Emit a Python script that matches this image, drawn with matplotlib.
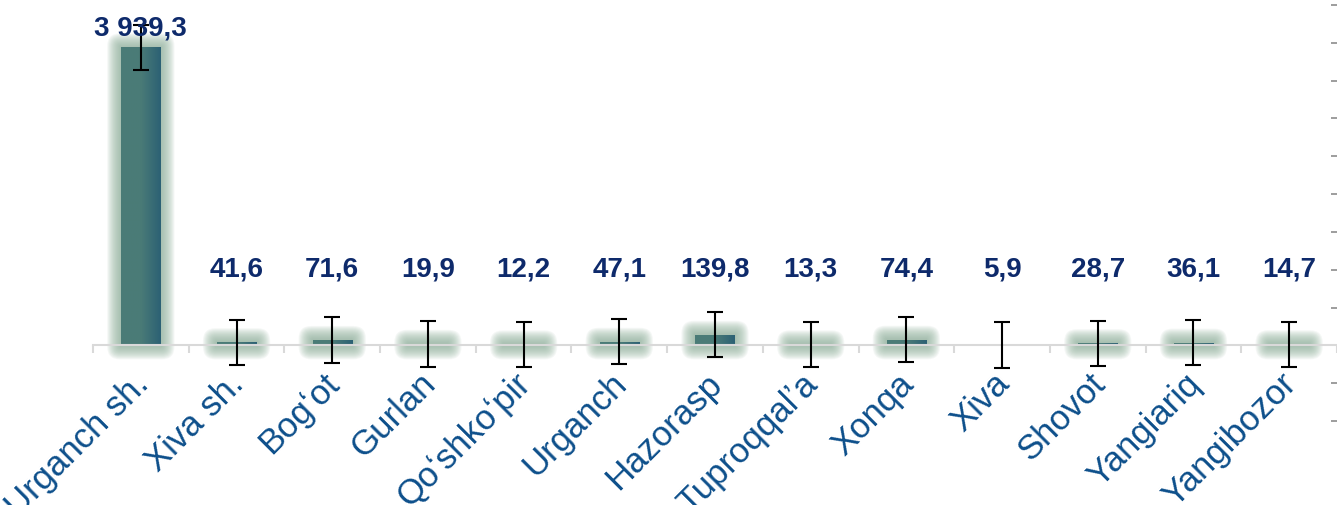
import numpy as np
import matplotlib
matplotlib.use("Agg")
from matplotlib import pyplot as plt
from matplotlib.patches import FancyBboxPatch
from matplotlib.ticker import MultipleLocator, FixedLocator
import matplotlib.transforms as mtransforms

# districts and values
districts = ["Urganch sh.", "Xiva sh.", "Bog\u02bbot", "Gurlan", "Qo\u02bbshko\u02bbpir", "Urganch",
             "Hazorasp", "Tuproqqal\u02bca", "Xonqa", "Xiva", "Shovot", "Yangiariq", "Yangibozor"]
values = [3939.3, 41.6, 71.6, 19.9, 12.2, 47.1, 139.8, 13.3, 74.4, 5.9, 28.7, 36.1, 14.7]
labels = ["3 939,3", "41,6", "71,6", "19,9", "12,2", "47,1", "139,8", "13,3", "74,4", "5,9", "28,7", "36,1", "14,7"]
errors = [300] * 13

plt.rcParams['font.family'] = ['Liberation Sans', 'DejaVu Sans']

W, H = 1337, 505
fig = plt.figure(figsize=(W / 100, H / 100), dpi=100)
ax = fig.add_axes([93 / W, 1 - 421 / H, 1 - 93 / W, (421 - 5) / H])
ymin, ymax = -1000, 4500
ax.set_xlim(-0.5, len(values) - 0.5)
ax.set_ylim(ymin, ymax)

x = np.arange(len(values))
bw = 0.41

# data units per pixel, for the glow padding
ux = len(values) / (W - 93)
uy = (ymax - ymin) / (421 - 5)

# soft glow behind bars
nlay = 14
for xi, v in zip(x, values):
    if v / uy < 0.5:
        continue
    for k in range(nlay, 0, -1):
        p = 14 * k / nlay * ux
        patch = FancyBboxPatch((xi - bw / 2, 0), bw, v,
                               boxstyle="round,pad=%f,rounding_size=%f" % (p, p * 0.9),
                               mutation_aspect=uy / ux, facecolor="#8eae9a",
                               edgecolor="none", alpha=0.09, zorder=1)
        ax.add_patch(patch)

bars = ax.bar(x, values, width=bw, color="#4a7b77", zorder=2)

# darker gradient toward right edge of each bar
grad = np.linspace(0, 1, 64).reshape(1, -1)
cmap = matplotlib.colors.LinearSegmentedColormap.from_list(
    "g", ["#4b7c77", "#4a7b77", "#2c6174"])
for b in bars:
    x0, y0, bwid, bh = b.get_x(), b.get_y(), b.get_width(), b.get_height()
    im = ax.imshow(grad, extent=(x0, x0 + bwid, y0, y0 + bh), cmap=cmap,
                   aspect="auto", zorder=2.5, interpolation="bilinear")
    im.set_clip_path(b)
ax.set_xlim(-0.5, len(values) - 0.5)
ax.set_ylim(ymin, ymax)

ax.errorbar(x, values, yerr=errors, fmt="none", ecolor="black", elinewidth=1.5,
            capsize=5.5, capthick=1.5, zorder=4)

# value labels
for xi, v, t in zip(x, values, labels):
    ly = v + 250 if v > 1000 else 1000
    ax.text(xi, ly, t, ha="center", va="center", fontsize=20, fontweight="bold",
            color="#0e2a6b", zorder=5)

for s in ["top", "left", "right"]:
    ax.spines[s].set_visible(False)
ax.spines["bottom"].set_position(("data", 0))
ax.spines["bottom"].set_color("#d9d9d9")
ax.spines["bottom"].set_linewidth(1.5)
ax.spines["bottom"].set_zorder(3)

ax.xaxis.set_major_locator(FixedLocator(x))
ax.xaxis.set_minor_locator(FixedLocator(np.arange(-0.5, len(values), 1)))
ax.set_xticklabels(districts, rotation=45, ha="right", va="baseline",
                   rotation_mode="anchor", fontsize=25, color="#0d4f8b")
ax.tick_params(axis="x", which="major", length=0, pad=29)
ax.tick_params(axis="x", which="minor", length=6, width=1.5, color="#d9d9d9", direction="out")
shift = mtransforms.ScaledTranslation(9 / 100, 0, fig.dpi_scale_trans)
for lab in ax.get_xticklabels():
    lab.set_transform(lab.get_transform() + shift)

ax.yaxis.tick_right()
ax.yaxis.set_major_locator(MultipleLocator(500))
ax.tick_params(axis="y", which="major", direction="in", length=4, width=1.2,
               color="#8c8c8c", labelright=False, labelleft=False)

fig.savefig("out.png", dpi=100)
